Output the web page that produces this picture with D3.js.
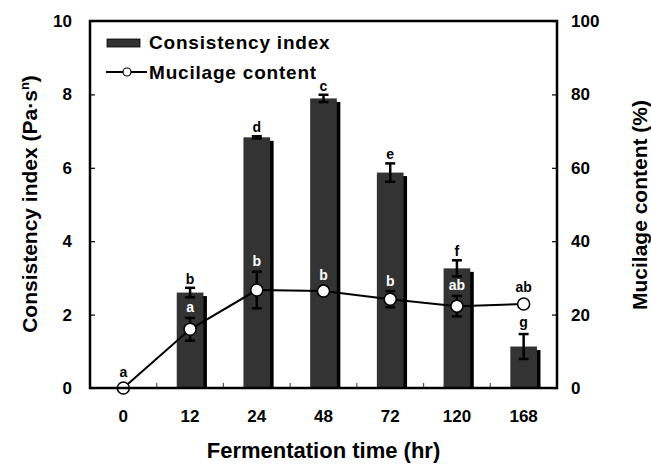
<!DOCTYPE html>
<html><head><meta charset="utf-8">
<script src="https://cdn.jsdelivr.net/npm/d3@7/dist/d3.min.js"></script>
<style>
html,body{margin:0;padding:0;background:#fff;}
text{font-family:"Liberation Sans",Arial,sans-serif;font-weight:bold;}
</style></head>
<body>
<svg id="c" width="651" height="465"></svg>
<script>
const categories = ["0","12","24","48","72","120","168"];
const consistency = [0, 2.6, 6.83, 7.89, 5.87, 3.26, 1.13];
const consistencyErr = [0, 0.13, 0.03, 0.1, 0.25, 0.22, 0.34];
const consistencyLetters = ["", "b", "d", "c", "e", "f", "g"];
const mucilage = [0, 16.0, 26.7, 26.4, 24.2, 22.3, 22.9];
const mucilageErr = [0, 3.1, 5.0, 0.8, 2.2, 2.8, 0.8];
const mucilageLetters = ["a", "a", "b", "b", "b", "ab", "ab"];
const leftTicks = [0, 2, 4, 6, 8, 10];
const rightTicks = [0, 20, 40, 60, 80, 100];

const svg = d3.select("#c");
const L = 90, R = 557, T = 21, B = 388;
const x = d3.scaleBand().domain(categories).range([L, R]).padding(0);
const yL = d3.scaleLinear().domain([0, 10]).range([B, T]);
const yR = d3.scaleLinear().domain([0, 100]).range([B, T]);
const bw = x.bandwidth() * 0.4;
const cx = d => x(d) + x.bandwidth() / 2;
const idx = d3.range(categories.length);

// shadows
svg.append("g").selectAll("rect").data(idx).join("rect")
  .attr("x", i => cx(categories[i]) - bw / 2 + 3.5)
  .attr("y", i => yL(consistency[i]) + 3.5)
  .attr("width", bw)
  .attr("height", i => Math.max(0, B - yL(consistency[i]) - 3.5))
  .attr("fill", "#000");
// bars
svg.append("g").selectAll("rect").data(idx).join("rect")
  .attr("x", i => cx(categories[i]) - bw / 2)
  .attr("y", i => yL(consistency[i]))
  .attr("width", bw)
  .attr("height", i => B - yL(consistency[i]))
  .attr("fill", "#333333");

function errBars(g, vals, errs, scale) {
  idx.forEach(i => {
    if (errs[i] <= 0) return;
    const xc = cx(categories[i]);
    const y1 = scale(vals[i] + errs[i]), y2 = scale(vals[i] - errs[i]);
    g.append("line").attr("x1", xc).attr("x2", xc).attr("y1", y1).attr("y2", y2);
    g.append("line").attr("x1", xc - 5).attr("x2", xc + 5).attr("y1", y1).attr("y2", y1);
    g.append("line").attr("x1", xc - 5).attr("x2", xc + 5).attr("y1", y2).attr("y2", y2);
  });
}
const ge1 = svg.append("g").attr("stroke", "#000").attr("stroke-width", 2.5);
errBars(ge1, consistency, consistencyErr, yL);

// line
const line = d3.line().x(i => cx(categories[i])).y(i => yR(mucilage[i]));
svg.append("path").datum(idx).attr("d", line).attr("fill", "none")
  .attr("stroke", "#000").attr("stroke-width", 2);
const ge2 = svg.append("g").attr("stroke", "#000").attr("stroke-width", 2.5);
errBars(ge2, mucilage, mucilageErr, yR);
svg.append("g").selectAll("circle").data(idx).join("circle")
  .attr("cx", i => cx(categories[i])).attr("cy", i => yR(mucilage[i]))
  .attr("r", 6).attr("fill", "#fff").attr("stroke", "#000").attr("stroke-width", 1.5);

// letters
const desc = s => /[gjpqy]/.test(s) ? 3 : 0;
svg.append("g").selectAll("text").data(idx).join("text")
  .attr("x", i => cx(categories[i]))
  .attr("y", i => yL(consistency[i] + consistencyErr[i]) - 4 - desc(consistencyLetters[i]))
  .attr("text-anchor", "middle").attr("font-size", 14).attr("fill", "#000")
  .text(i => consistencyLetters[i]);
const mLabelY = i => Math.min(yR(mucilage[i] + mucilageErr[i]), yR(mucilage[i]) - 6) - 5.5;
svg.append("g").selectAll("text").data(idx).join("text")
  .attr("x", i => cx(categories[i]))
  .attr("y", mLabelY)
  .attr("text-anchor", "middle").attr("font-size", 14)
  .attr("fill", i => mLabelY(i) - 8 > yL(consistency[i]) ? "#fff" : "#000")
  .text(i => mucilageLetters[i]);

// axes
const axL = svg.append("g").attr("transform", `translate(${L},0)`)
  .call(d3.axisLeft(yL).tickValues(leftTicks).tickSize(-5).tickPadding(18).tickFormat(d3.format("d")));
const axR = svg.append("g").attr("transform", `translate(${R},0)`)
  .call(d3.axisRight(yR).tickValues(rightTicks).tickSize(-5).tickPadding(14).tickFormat(d3.format("d")));
const axB = svg.append("g").attr("transform", `translate(0,${B})`)
  .call(d3.axisBottom(x).tickSize(0).tickPadding(21.5));
[axL, axR, axB].forEach(a => {
  a.select(".domain").remove();
  a.selectAll("text").attr("font-size", 17).attr("font-family", "Liberation Sans, Arial, sans-serif")
    .attr("font-weight", "bold").attr("fill", "#000");
  a.selectAll("line").attr("stroke", "#000").attr("stroke-width", 1.2);
});
// category boundary ticks
svg.append("g").selectAll("line").data(categories.slice(1)).join("line")
  .attr("x1", d => x(d)).attr("x2", d => x(d)).attr("y1", B).attr("y2", B - 5)
  .attr("stroke", "#555").attr("stroke-width", 1.2);
// frame
svg.append("rect").attr("x", L).attr("y", T).attr("width", R - L).attr("height", B - T)
  .attr("fill", "none").attr("stroke", "#000").attr("stroke-width", 2.5);

// titles
svg.append("text").attr("x", (L + R) / 2).attr("y", 458).attr("text-anchor", "middle")
  .attr("font-size", 22).text("Fermentation time (hr)");
const tl = svg.append("text").attr("transform", "translate(37,204) rotate(-90)")
  .attr("text-anchor", "middle").attr("font-size", 21);
tl.append("tspan").text("Consistency index (Pa·s");
tl.append("tspan").attr("font-size", 13).attr("dy", -8).text("n");
tl.append("tspan").attr("dy", 8).text(")");
svg.append("text").attr("transform", "translate(647,205) rotate(-90)")
  .attr("text-anchor", "middle").attr("font-size", 21).text("Mucilage content (%)");

// legend
const lg = svg.append("g");
lg.append("rect").attr("x", 107).attr("y", 39).attr("width", 33).attr("height", 8).attr("fill", "#333333")
  .attr("stroke", "#000").attr("stroke-width", 0.8);
lg.append("text").attr("x", 149).attr("y", 49).attr("font-size", 19).attr("letter-spacing", 0.8).text("Consistency index");
lg.append("line").attr("x1", 106).attr("x2", 147).attr("y1", 72).attr("y2", 72)
  .attr("stroke", "#000").attr("stroke-width", 2);
lg.append("circle").attr("cx", 127).attr("cy", 72).attr("r", 4).attr("fill", "#fff")
  .attr("stroke", "#000").attr("stroke-width", 1.2);
lg.append("text").attr("x", 149).attr("y", 79).attr("font-size", 19).attr("letter-spacing", 0.8).text("Mucilage content");
</script>
</body></html>
